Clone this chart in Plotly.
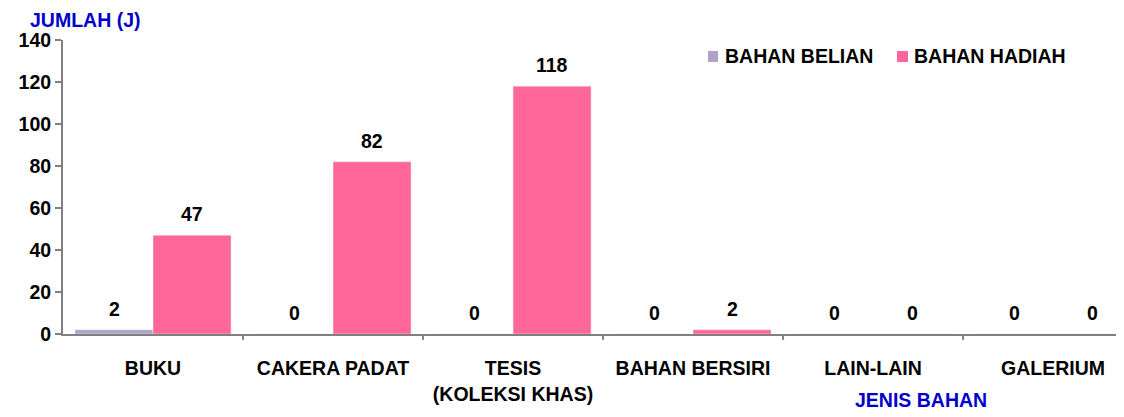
import plotly.graph_objects as go

categories = ["BUKU", "CAKERA PADAT", "TESIS<br>(KOLEKSI KHAS)", "BAHAN BERSIRI", "LAIN-LAIN", "GALERIUM"]
series_names = ["BAHAN BELIAN", "BAHAN HADIAH"]
belian = [2, 0, 0, 0, 0, 0]
hadiah = [47, 82, 118, 2, 0, 0]
y_ticks = [0, 20, 40, 60, 80, 100, 120, 140]
colors = ["#B3A2C7", "#FF6699"]

FONT = "Liberation Sans, Arial, sans-serif"
FS = 19.5
OFF = 8  # page body margin
W, H = 1124 - OFF, 417 - OFF
L, R, T, B = 63 - OFF, 0, 40 - OFF, 83
PW, PH = W - L - R, H - T - B


def px(xp):
    return (xp - 63) / PW


def py(yp):
    return (334 - yp) / PH


x = list(range(len(categories)))

fig = go.Figure()
for name, vals, col in zip(series_names, [belian, hadiah], colors):
    fig.add_trace(go.Bar(x=x, y=vals, name=name, marker_color=col, showlegend=False))

# value labels above bars
for vals, shift in [(belian, -39), (hadiah, 39)]:
    for xi, v in zip(x, vals):
        fig.add_annotation(x=xi, y=v, xref="x", yref="y", text=f"<b>{v}</b>", showarrow=False,
                           xshift=shift, yshift=21, yanchor="middle", xanchor="center",
                           font=dict(family=FONT, size=FS, color="black"))

fig.update_layout(
    width=W, height=H,
    margin=dict(l=L, r=R, t=T, b=B, autoexpand=False),
    paper_bgcolor="white", plot_bgcolor="white",
    barmode="group", bargap=0.133, bargroupgap=0,
    font=dict(family=FONT, size=FS, color="black"),
    showlegend=False,
    xaxis=dict(tickmode="array", tickvals=x, ticktext=[f"<b>{c}</b>" for c in categories],
               range=[-0.5, 5.394], showgrid=False, showline=True, linecolor="#808080",
               linewidth=2, ticks="", ticklabelstandoff=16, automargin=False,
               tickfont=dict(family=FONT, size=FS, color="black"), zeroline=False),
    yaxis=dict(range=[0, 140], tickvals=y_ticks, ticktext=[f"<b>{t}</b>" for t in y_ticks],
               showgrid=False, showline=True, automargin=False,
               linecolor="#808080", linewidth=2, ticks="outside", ticklen=6, tickcolor="#808080",
               tickwidth=2, tickfont=dict(family=FONT, size=FS, color="black"),
               zeroline=False),
)

# category boundary ticks on x axis
for bnd in [0.5, 1.5, 2.5, 3.5, 4.5]:
    fig.add_shape(type="line", xref="x", yref="paper", x0=bnd, x1=bnd, y0=0, y1=-0.02,
                  line=dict(color="#808080", width=2))

# manual legend
legend_sq = [(708, 718), (897, 908)]
legend_tx = [723, 912]
for name, col, (s0, s1), tx in zip(series_names, colors, legend_sq, legend_tx):
    fig.add_shape(type="rect", xref="paper", yref="paper", x0=px(s0), x1=px(s1),
                  y0=py(62), y1=py(51), fillcolor=col, line=dict(width=0))
    fig.add_annotation(text=f"<b>{name}</b>", xref="paper", yref="paper", x=px(tx), y=py(56),
                       xanchor="left", yanchor="middle", showarrow=False,
                       font=dict(family=FONT, size=FS, color="black"))

fig.add_annotation(text="<b>JUMLAH (J)</b>", xref="paper", yref="paper", x=px(28), y=py(20),
                   xanchor="left", yanchor="middle", showarrow=False,
                   font=dict(family=FONT, size=FS, color="#0000CC"))
fig.add_annotation(text="<b>JENIS BAHAN</b>", xref="paper", yref="paper", x=px(853), y=py(400),
                   xanchor="left", yanchor="middle", showarrow=False,
                   font=dict(family=FONT, size=FS, color="#0000CC"))

fig.write_html("out.html")
